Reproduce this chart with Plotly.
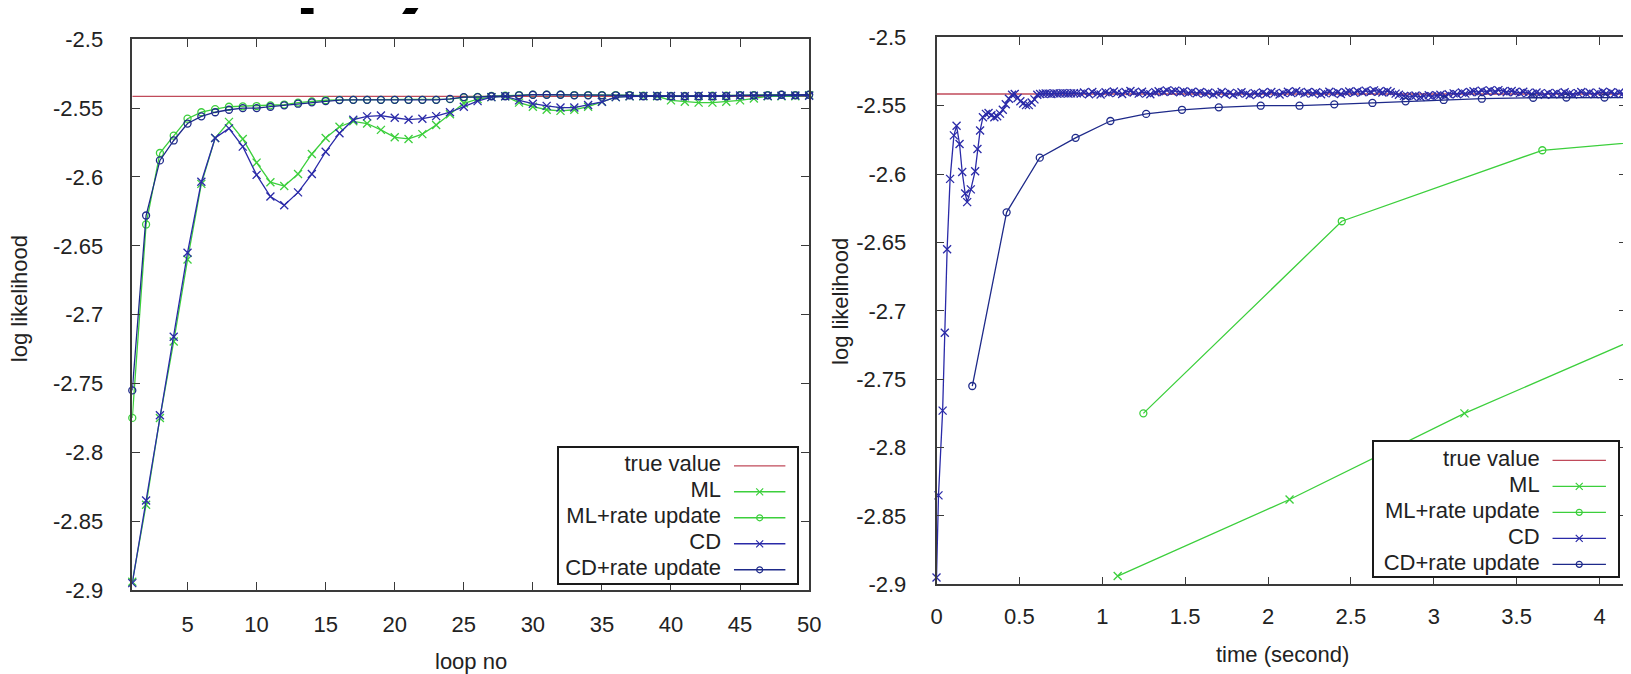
import plotly.graph_objects as go

FIG_W, FIG_H = 1631, 674

# ---------------- data ----------------
loops = list(range(1, 51))
true_value = -2.5415

ml = [-2.894, -2.838, -2.775, -2.7195, -2.660, -2.605, -2.5717, -2.560, -2.5724, -2.5896,
      -2.6038, -2.6066, -2.5979, -2.5833, -2.5717, -2.5635, -2.5596, -2.5612, -2.5658, -2.5712,
      -2.5724, -2.5689, -2.5623, -2.5545, -2.5465, -2.5435, -2.5420, -2.5415, -2.5460, -2.5490,
      -2.5512, -2.5520, -2.5512, -2.5490, -2.5454, -2.5420, -2.5414, -2.5414, -2.5414, -2.5444,
      -2.5454, -2.5460, -2.5460, -2.5454, -2.5444, -2.5430, -2.5414, -2.5414, -2.5414, -2.5407]

ml_rate = [-2.775, -2.6345, -2.5826, -2.5700, -2.5577, -2.5530, -2.5507, -2.5490, -2.5487, -2.5485,
           -2.5480, -2.5474, -2.5460, -2.5451, -2.5443, -2.5440, -2.5440, -2.5440, -2.5440, -2.5440,
           -2.5440, -2.5440, -2.5440, -2.5435, -2.5422, -2.5418, -2.5412, -2.5410, -2.5405, -2.5402,
           -2.5402, -2.5402, -2.5405, -2.5405, -2.5405, -2.5405, -2.5405, -2.5410, -2.5412, -2.5412,
           -2.5412, -2.5412, -2.5410, -2.5410, -2.5405, -2.5405, -2.5405, -2.5402, -2.5405, -2.5402]

cd = [-2.895, -2.835, -2.773, -2.716, -2.655, -2.6035, -2.5717, -2.5647, -2.5780, -2.5985,
      -2.6142, -2.6205, -2.6112, -2.5979, -2.5817, -2.5682, -2.5584, -2.5560, -2.5554, -2.5570,
      -2.5584, -2.5577, -2.5558, -2.5530, -2.5490, -2.5449, -2.5420, -2.5414, -2.5444, -2.5468,
      -2.5484, -2.5496, -2.5496, -2.5477, -2.5454, -2.5420, -2.5414, -2.5412, -2.5410, -2.5412,
      -2.5414, -2.5410, -2.5412, -2.5410, -2.5408, -2.5410, -2.5412, -2.5410, -2.5408, -2.5410]

cd_rate = [-2.755, -2.628, -2.588, -2.5735, -2.5612, -2.5560, -2.5530, -2.5512, -2.5500, -2.5500,
           -2.5490, -2.5480, -2.5468, -2.5458, -2.5449, -2.5442, -2.5440, -2.5440, -2.5440, -2.5440,
           -2.5440, -2.5440, -2.5440, -2.5433, -2.5420, -2.5420, -2.5414, -2.5414, -2.5407, -2.5403,
           -2.5403, -2.5403, -2.5407, -2.5407, -2.5407, -2.5407, -2.5407, -2.5414, -2.5414, -2.5414,
           -2.5414, -2.5414, -2.5414, -2.5414, -2.5407, -2.5407, -2.5407, -2.5403, -2.5407, -2.5403]

# right panel: elapsed time (seconds) of each loop
ml_time = [1.093, 2.13, 3.185, 4.24]
ml_rate_time = [1.248, 2.445, 3.655, 4.87]
cd_rate_time = [0.216, 0.423, 0.623, 0.839, 1.049, 1.265, 1.481, 1.703, 1.956, 2.19,
                2.40, 2.63, 2.83, 3.06, 3.29, 3.60, 3.80, 4.03, 4.25]
cd_time = [0.000, 0.012, 0.037, 0.050, 0.064, 0.082, 0.105, 0.121, 0.139, 0.155,
           0.173, 0.185, 0.207, 0.233, 0.247, 0.263, 0.280, 0.298, 0.314, 0.331,
           0.349, 0.366, 0.383, 0.400, 0.418, 0.437, 0.456, 0.472, 0.489, 0.506,
           0.523, 0.540, 0.557, 0.574, 0.591, 0.608, 0.625, 0.642, 0.659, 0.676,
           0.693, 0.710, 0.727, 0.744, 0.761, 0.778, 0.795, 0.812, 0.829, 0.846]
cd_tail_time = [0.87, 0.89, 0.92, 0.94, 0.97, 0.99, 1.02, 1.04, 1.07, 1.09,
                1.12, 1.14, 1.17, 1.19, 1.22, 1.24, 1.27, 1.29, 1.32, 1.34,
                1.37, 1.39, 1.42, 1.44, 1.47, 1.49, 1.52, 1.54, 1.57, 1.59,
                1.62, 1.64, 1.67, 1.69, 1.72, 1.74, 1.77, 1.79, 1.82, 1.84,
                1.87, 1.89, 1.92, 1.94, 1.97, 1.99, 2.02, 2.04, 2.07, 2.09,
                2.12, 2.14, 2.17, 2.19, 2.22, 2.24, 2.27, 2.29, 2.32, 2.34,
                2.37, 2.39, 2.42, 2.44, 2.47, 2.49, 2.52, 2.54, 2.57, 2.59,
                2.62, 2.64, 2.67, 2.69, 2.72, 2.74, 2.77, 2.79, 2.82, 2.84,
                2.87, 2.89, 2.92, 2.94, 2.97, 2.99, 3.02, 3.04, 3.07, 3.09,
                3.12, 3.14, 3.17, 3.19, 3.22, 3.24, 3.27, 3.29, 3.32, 3.34,
                3.37, 3.39, 3.42, 3.44, 3.47, 3.49, 3.52, 3.54, 3.57, 3.59,
                3.62, 3.64, 3.67, 3.69, 3.72, 3.74, 3.77, 3.79, 3.82, 3.84,
                3.87, 3.89, 3.92, 3.94, 3.97, 3.99, 4.02, 4.04, 4.07, 4.09,
                4.12, 4.14, 4.17, 4.19]
cd_tail = [-2.5412, -2.5404, -2.5416, -2.5400, -2.5410, -2.5418, -2.5402, -2.5408, -2.5396, -2.5406,
           -2.5414, -2.5400, -2.5392, -2.5404, -2.5412, -2.5398, -2.5408, -2.5416, -2.5402, -2.5394,
           -2.5400, -2.5388, -2.5396, -2.5390, -2.5402, -2.5394, -2.5406, -2.5398, -2.5410, -2.5400,
           -2.5412, -2.5404, -2.5418, -2.5408, -2.5400, -2.5414, -2.5406, -2.5420, -2.5410, -2.5402,
           -2.5412, -2.5422, -2.5408, -2.5416, -2.5404, -2.5414, -2.5400, -2.5410, -2.5418, -2.5406,
           -2.5398, -2.5408, -2.5394, -2.5404, -2.5412, -2.5400, -2.5410, -2.5402, -2.5416, -2.5406,
           -2.5398, -2.5410, -2.5402, -2.5414, -2.5404, -2.5396, -2.5406, -2.5394, -2.5402, -2.5390,
           -2.5398, -2.5388, -2.5396, -2.5404, -2.5392, -2.5402, -2.5412, -2.5420, -2.5428, -2.5430,
           -2.5432, -2.5426, -2.5436, -2.5430, -2.5424, -2.5432, -2.5426, -2.5420, -2.5428, -2.5416,
           -2.5410, -2.5416, -2.5404, -2.5412, -2.5400, -2.5394, -2.5402, -2.5390, -2.5398, -2.5388,
           -2.5396, -2.5386, -2.5394, -2.5402, -2.5392, -2.5400, -2.5408, -2.5398, -2.5406, -2.5414,
           -2.5404, -2.5412, -2.5420, -2.5408, -2.5416, -2.5406, -2.5414, -2.5402, -2.5410, -2.5418,
           -2.5408, -2.5400, -2.5412, -2.5404, -2.5416, -2.5406, -2.5398, -2.5410, -2.5402, -2.5414,
           -2.5404, -2.5412, -2.5400, -2.5408]

y_ticks = [-2.9, -2.85, -2.8, -2.75, -2.7, -2.65, -2.6, -2.55, -2.5]
y_tick_text = ["-2.9", "-2.85", "-2.8", "-2.75", "-2.7", "-2.65", "-2.6", "-2.55", "-2.5"]
x1_ticks = [5, 10, 15, 20, 25, 30, 35, 40, 45, 50]
x2_ticks = [0, 0.5, 1, 1.5, 2, 2.5, 3, 3.5, 4]
x2_tick_text = ["0", "0.5", "1", "1.5", "2", "2.5", "3", "3.5", "4"]

legend_names = ["true value", "ML", "ML+rate update", "CD", "CD+rate update"]

# ---------------- style ----------------
RED = "#c04a5a"
GREEN = "#3ccf3c"
CD_C = "#2a2aa8"
CDR_C = "#1e2a8a"
AX = "#3a3a3a"
FONT = "Liberation Sans, Arial, sans-serif"
FS = 22

styles = [(RED, None), (GREEN, "x-thin-open"), (GREEN, "circle-open"),
          (CD_C, "x-thin-open"), (CDR_C, "circle-open")]
sizes = {"x-thin-open": 8, "circle-open": 7}


def px_x(p):
    return p / FIG_W


def px_y(p):
    return 1 - p / FIG_H


fig = go.Figure()


def series(x, y, color, symbol, xa, ya):
    if symbol is None:
        fig.add_trace(go.Scatter(x=x, y=y, mode="lines", xaxis=xa, yaxis=ya,
                                 line=dict(color=color, width=1.4), showlegend=False,
                                 hoverinfo="skip"))
    else:
        fig.add_trace(go.Scatter(x=x, y=y, mode="lines+markers", xaxis=xa, yaxis=ya,
                                 line=dict(color=color, width=1.3),
                                 marker=dict(symbol=symbol, size=sizes[symbol], color=color,
                                             line=dict(color=color, width=1.3)),
                                 cliponaxis=False, showlegend=False, hoverinfo="skip"))


# left panel
series([loops[0], loops[-1]], [true_value, true_value], RED, None, "x", "y")
series(loops, ml, GREEN, "x-thin-open", "x", "y")
series(loops, ml_rate, GREEN, "circle-open", "x", "y")
series(loops, cd, CD_C, "x-thin-open", "x", "y")
series(loops, cd_rate, CDR_C, "circle-open", "x", "y")

# right panel
X2_MAX = (FIG_W - 932.8) / 167.6
series([0, X2_MAX], [true_value, true_value], RED, None, "x2", "y2")
series(ml_time, ml[:len(ml_time)], GREEN, "x-thin-open", "x2", "y2")
series(ml_rate_time, ml_rate[:len(ml_rate_time)], GREEN, "circle-open", "x2", "y2")
series(cd_time + cd_tail_time, cd + cd_tail, CD_C, "x-thin-open", "x2", "y2")
series(cd_rate_time, cd_rate[:len(cd_rate_time)], CDR_C, "circle-open", "x2", "y2")


# custom gnuplot-style legends (text on the left, sample on the right)
def add_legend(xa, ya, bw, bh, text_right, s0, s1):
    fig.add_trace(go.Scatter(x=[0, bw, bw, 0, 0], y=[0, 0, bh, bh, 0], mode="lines",
                             fill="toself", fillcolor="white", line=dict(width=0),
                             xaxis=xa, yaxis=ya, showlegend=False, hoverinfo="skip"))
    rows = [19, 46, 73, 100, 127]
    fig.add_trace(go.Scatter(x=[text_right] * 5, y=rows, mode="text", text=legend_names,
                             textposition="middle left",
                             textfont=dict(family=FONT, size=FS, color="#222222"),
                             xaxis=xa, yaxis=ya, showlegend=False, hoverinfo="skip"))
    for (color, sym), r in zip(styles, rows):
        fig.add_trace(go.Scatter(x=[s0, s1], y=[r, r], mode="lines",
                                 line=dict(color=color, width=1.4),
                                 xaxis=xa, yaxis=ya, showlegend=False, hoverinfo="skip"))
        if sym:
            fig.add_trace(go.Scatter(x=[(s0 + s1) / 2], y=[r], mode="markers",
                                     marker=dict(symbol=sym, size=sizes[sym] - 1, color=color,
                                                 line=dict(color=color, width=1.2)),
                                     xaxis=xa, yaxis=ya, showlegend=False, hoverinfo="skip"))


LBW, LBH = 241.0, 141.0
RBW, RBH = 246.7, 139.4
add_legend("x3", "y3", LBW, LBH, LBW - 77, LBW - 64, LBW - 12)
add_legend("x4", "y4", RBW, RBH, RBW - 79, RBW - 66, RBW - 12)

axis_common = dict(showline=True, linecolor=AX, linewidth=1.5, mirror="ticks",
                   ticks="inside", ticklen=8, tickwidth=1.2, tickcolor=AX,
                   showgrid=False, zeroline=False, fixedrange=True,
                   tickfont=dict(family=FONT, size=FS, color="#222222"))

leg_axis = dict(showline=True, linecolor="#1a1a1a", linewidth=1.5, mirror=True,
                ticks="", showticklabels=False, showgrid=False, zeroline=False,
                fixedrange=True)

fig.update_layout(
    width=FIG_W, height=FIG_H,
    margin=dict(l=0, r=0, t=0, b=0),
    paper_bgcolor="white", plot_bgcolor="white",
    showlegend=False,
    xaxis=dict(axis_common, domain=[px_x(119.6), px_x(804)], range=[1, 50],
               tickvals=x1_ticks, ticktext=[str(v) for v in x1_ticks],
               ticklabelstandoff=14, anchor="y"),
    yaxis=dict(axis_common, domain=[px_y(592), px_y(20)], range=[-2.9, -2.5],
               tickvals=y_ticks, ticktext=y_tick_text, ticklabelstandoff=23, anchor="x"),
    xaxis2=dict(axis_common, domain=[px_x(932.8), 1.0], range=[0, X2_MAX],
                tickvals=x2_ticks, ticktext=x2_tick_text, ticklabelstandoff=12, anchor="y2"),
    yaxis2=dict(axis_common, domain=[px_y(586), px_y(18)], range=[-2.9, -2.5],
                tickvals=y_ticks, ticktext=y_tick_text, ticklabelstandoff=24, anchor="x2"),
    xaxis3=dict(leg_axis, domain=[px_x(551), px_x(792)], range=[0, LBW], anchor="y3"),
    yaxis3=dict(leg_axis, domain=[px_y(585), px_y(444)], range=[LBH, 0], anchor="x3"),
    xaxis4=dict(leg_axis, domain=[px_x(1375), px_x(1621.7)], range=[0, RBW], anchor="y4"),
    yaxis4=dict(leg_axis, domain=[px_y(577.7), px_y(438.3)], range=[RBH, 0], anchor="x4"),
)

ann_font = dict(family=FONT, size=FS, color="#222222")
fig.add_annotation(x=px_x(5), y=px_y(289), xref="paper", yref="paper", text="log likelihood",
                   textangle=-90, showarrow=False, font=ann_font, xanchor="center", yanchor="middle")
fig.add_annotation(x=px_x(835), y=px_y(292), xref="paper", yref="paper", text="log likelihood",
                   textangle=-90, showarrow=False, font=ann_font, xanchor="center", yanchor="middle")
fig.add_annotation(x=px_x(462), y=px_y(666), xref="paper", yref="paper", text="loop no",
                   showarrow=False, font=ann_font, xanchor="center", yanchor="middle")
fig.add_annotation(x=px_x(1283), y=px_y(659), xref="paper", yref="paper", text="time (second)",
                   showarrow=False, font=ann_font, xanchor="center", yanchor="middle")

# cropped remnant of a large heading above the charts (only descenders show)
fig.add_annotation(x=px_x(274), y=px_y(-59), xref="paper", yref="paper", text="<b>scope)</b>",
                   showarrow=False, font=dict(family=FONT, size=92, color="black"),
                   xanchor="center", yanchor="middle")

fig.write_html("out.html")
